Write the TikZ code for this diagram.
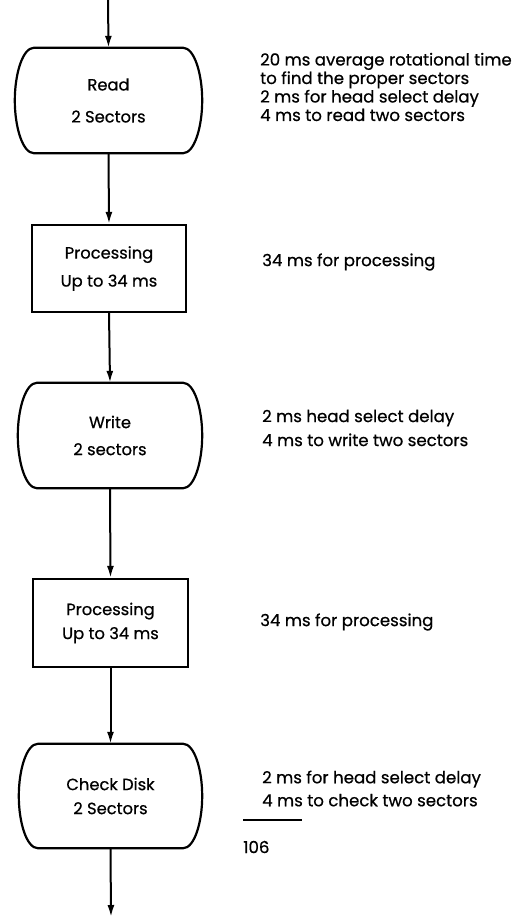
\documentclass[tikz,border=0pt]{standalone}
\usepackage{fontspec}
\setmainfont{Poppins}[BoldFont=Poppins,BoldFeatures={FakeBold=0.6}]
\usetikzlibrary{arrows.meta}
\begin{document}
\begin{tikzpicture}[x=1pt,y=-1pt,
  flow/.style={line width=2pt,-{Latex[length=12pt,width=7pt]}},
  boxtext/.style={font=\fontsize{16.3}{20}\selectfont\bfseries,align=center,inner sep=0pt},
  procbox/.style={boxtext,draw,line width=2.2pt,rectangle},
  bulgebox/.style={boxtext},
  note/.style={font=\fontsize{16.6}{18.5}\selectfont\bfseries,align=left,anchor=west,inner sep=0pt},
  outline/.style={line width=2.2pt}
]
\useasboundingbox (0,0) rectangle (531,917);

\newcommand{\bulgeoutline}[1]{%
  \draw[outline] ([xshift=19pt]#1.north west) -- ([xshift=-19pt]#1.north east)
    .. controls ([xshift=-8pt]#1.north east) and ([yshift=27pt]#1.east) .. (#1.east)
    .. controls ([yshift=-27pt]#1.east) and ([xshift=-8pt]#1.south east) .. ([xshift=-19pt]#1.south east)
    -- ([xshift=19pt]#1.south west)
    .. controls ([xshift=8pt]#1.south west) and ([yshift=-27pt]#1.west) .. (#1.west)
    .. controls ([yshift=27pt]#1.west) and ([xshift=8pt]#1.north west) .. cycle;}

\coordinate (start) at (108,0);
\coordinate (finish) at (111,917);

\node[bulgebox,minimum width=187pt,minimum height=105pt] (read) at (108.5,100.5) {Read\\[12pt]2 Sectors};
\node[procbox,minimum width=154pt,minimum height=87pt] (proc1) at (109,268.5) {Processing\\[8pt]Up to 34 ms};
\node[bulgebox,minimum width=184pt,minimum height=105pt] (write) at (110,435.5) {Write\\[7pt]2 sectors};
\node[procbox,minimum width=155pt,minimum height=88pt] (proc2) at (110.5,623) {Processing\\[4pt]Up to 34 ms};
\node[bulgebox,minimum width=183pt,minimum height=104pt] (check) at (110.5,796) {Check Disk\\[4pt]2 Sectors};

\bulgeoutline{read}
\bulgeoutline{write}
\bulgeoutline{check}

\draw[flow] (start) -- (read.north);
\draw[flow] (read.south) -- (proc1.north);
\draw[flow] (proc1.south) -- (write.north);
\draw[flow] (write.south) -- (proc2.north);
\draw[flow] (proc2.south) -- (check.north);
\draw[flow] (check.south) -- (finish);

\node[note] (n1) at (260,87) {20 ms average rotational time\\to find the proper sectors\\2 ms for head select delay\\4 ms to read two sectors};
\node[note] (n2) at (262,262) {34 ms for processing};
\node[note,font=\fontsize{16.6}{24}\selectfont\bfseries] (n3) at (262,428) {2 ms head select delay\\4 ms to write two sectors};
\node[note] (n4) at (260,622) {34 ms for processing};
\node[note,font=\fontsize{16.6}{23}\selectfont\bfseries] (n5) at (262,788.5) {2 ms for head select delay\\4 ms to check two sectors};

\coordinate (ruleL) at (243,820);
\coordinate (ruleR) at (302,820);
\draw[line width=1.8pt] (ruleL) -- (ruleR);
\node[note] (total) at (243,847) {106};
\end{tikzpicture}
\end{document}
